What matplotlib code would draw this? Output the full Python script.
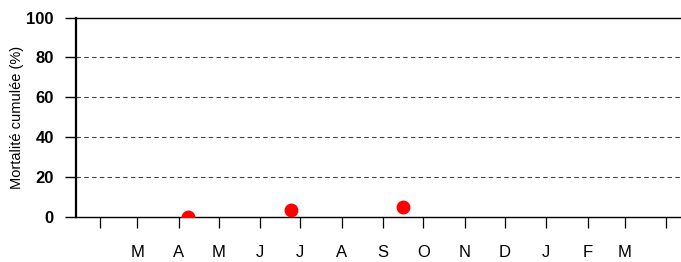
import numpy as np
import matplotlib
matplotlib.use("Agg")
import matplotlib.pyplot as plt
import matplotlib.dates as mdates
import pandas as pd

plt.rcParams['font.family'] = ['Liberation Sans', 'DejaVu Sans']

# Données
dates_obs = pd.to_datetime(["2001-04-08", "2001-06-24", "2001-09-16"])
mortalite = [0.0, 3.5, 5.2]

# Graduations mensuelles (début de mois)
mois_ticks = pd.date_range("2001-02-01", "2002-04-01", freq="MS")
mois_labels = ["", "M", "A", "M", "J", "J", "A", "S", "O", "N", "D", "J", "F", "M", ""]
y_ticks = [0, 20, 40, 60, 80, 100]

fig = plt.figure(figsize=(6.81, 2.62), dpi=100)
ax = fig.add_axes([76 / 681, 45 / 262, 1 - 76 / 681, 199.5 / 262])

ax.plot(dates_obs, mortalite, 'o', color='red', markersize=9, clip_on=True, zorder=3)

ax.set_xlim(pd.Timestamp("2001-01-14"), pd.Timestamp("2002-04-12"))
ax.set_ylim(0, 100)
ax.set_xticks(mdates.date2num(mois_ticks))
ax.set_xticklabels(mois_labels, fontsize=12)
ax.set_yticks(y_ticks)
ax.set_yticklabels([str(v) for v in y_ticks], fontsize=12, fontweight='bold')

for v in y_ticks[1:-1]:
    ax.axhline(v, color='#444444', linestyle=(0, (4, 3)), linewidth=0.8, zorder=1)

ax.spines['right'].set_visible(False)
ax.spines['left'].set_linewidth(1.6)
ax.spines['bottom'].set_linewidth(1.0)
ax.spines['top'].set_linewidth(1.0)

ax.tick_params(axis='x', direction='out', length=8, width=0.9, pad=12)
ax.tick_params(axis='y', direction='out', length=8, width=1.0, pad=8)

ax.set_ylabel('Mortalité cumulée (%)', fontsize=10.5)
ax.yaxis.set_label_coords((24 - 76) / 605, 0.5)

fig.savefig("out.png", dpi=100)
